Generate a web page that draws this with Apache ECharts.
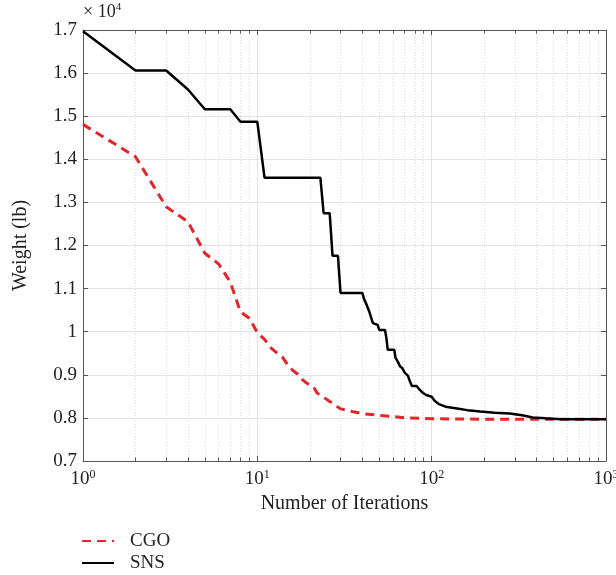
<!DOCTYPE html>
<html>
<head>
<meta charset="utf-8">
<script src="https://cdn.jsdelivr.net/npm/echarts@6/dist/echarts.min.js"></script>
<style>
  html, body { margin: 0; padding: 0; background: #fff; }
  #main { width: 616px; height: 575px; }
</style>
</head>
<body>
<div id="main"></div>
<script>
// weights in units of 1e4 lb, [iteration, weight]
var cgoData = [
  [1, 1.481], [2, 1.406], [3, 1.29], [4, 1.255], [5, 1.182], [6, 1.157], [7, 1.115],
  [8, 1.046], [9, 1.031], [10, 0.998], [11, 0.982], [12, 0.962], [13, 0.95], [14, 0.94],
  [15, 0.922], [16, 0.91], [17, 0.902], [18, 0.89], [19, 0.882], [20, 0.876], [21, 0.872],
  [22, 0.858], [23, 0.852], [24, 0.848], [25, 0.843], [26, 0.838], [27, 0.834], [28, 0.83],
  [29, 0.825], [30, 0.821], [35, 0.815], [40, 0.81], [50, 0.806], [60, 0.803], [70, 0.8],
  [100, 0.798], [200, 0.797], [1000, 0.797]
];
var snsData = [
  [1, 1.697], [2, 1.606], [3, 1.606], [4, 1.562], [5, 1.516], [7, 1.516], [8, 1.487],
  [10, 1.487], [11, 1.357], [23, 1.357], [24, 1.275], [26, 1.275], [27, 1.176], [29, 1.176],
  [30, 1.09], [40, 1.09], [41, 1.075], [42, 1.066], [43, 1.066], [44, 1.045], [45, 1.045],
  [46, 1.02], [47, 1.016], [49, 1.016], [50, 1.004], [54, 1.004], [55, 0.985], [56, 0.958],
  [61, 0.958], [62, 0.94], [64, 0.93], [66, 0.919], [68, 0.915], [70, 0.905], [73, 0.898],
  [75, 0.885], [77, 0.874], [82, 0.874], [85, 0.866], [89, 0.858], [93, 0.853], [100, 0.849],
  [104, 0.84], [110, 0.832], [120, 0.826], [140, 0.822], [160, 0.818], [190, 0.815],
  [230, 0.812], [280, 0.81], [330, 0.806], [380, 0.801], [450, 0.799], [550, 0.797], [1000, 0.797]
];
var minorX = [2, 3, 4, 5, 6, 7, 8, 9, 20, 30, 40, 50, 60, 70, 80, 90, 200, 300, 400, 500, 600, 700, 800, 900];
var seriesNames = ['CGO', 'SNS'];

var font = 'Liberation Serif';
var axisColor = '#555';
var gridColor = '#e4e4e4';
var yMin = 0.7, yMax = 1.7;

// minor grid lines + small minor ticks on the bottom and top edges
var minorLines = minorX.map(function (x) { return { xAxis: x }; });
var minorTicks = [];
minorX.forEach(function (x) {
  minorTicks.push([{ coord: [x, yMin] }, { coord: [x, yMin + 0.008] }]);
  minorTicks.push([{ coord: [x, yMax] }, { coord: [x, yMax - 0.008] }]);
});

var chart = echarts.init(document.getElementById('main'));
var option = {
  animation: false,
  backgroundColor: '#fff',
  textStyle: { fontFamily: font },
  grid: { left: 83, top: 30, right: 10, bottom: 114, outerBoundsMode: 'none' },
  legend: {
    data: seriesNames,
    orient: 'vertical',
    left: 81,
    top: 531,
    padding: 0,
    itemWidth: 32,
    itemHeight: 20,
    itemGap: 2,
    itemStyle: { opacity: 0 },
    textStyle: { fontFamily: font, fontSize: 19, lineHeight: 20, color: '#222', padding: [0, 0, 0, 11] }
  },
  graphic: [{
    type: 'text',
    left: 83,
    top: 2,
    style: {
      text: '× 10{s|4}',
      fontFamily: font,
      fontSize: 18,
      fill: '#222',
      rich: { s: { fontSize: 11, fontFamily: font, fill: '#222', padding: [0, 0, 9, 0] } }
    }
  }],
  xAxis: [{
    type: 'log',
    logBase: 10,
    min: 1,
    max: 1000,
    name: 'Number of Iterations',
    nameLocation: 'middle',
    nameGap: 33,
    nameTextStyle: { fontFamily: font, fontSize: 20, color: '#222' },
    axisLine: { show: true, lineStyle: { color: axisColor, width: 1 } },
    axisTick: { show: true, inside: true, length: 5, lineStyle: { color: axisColor } },
    splitLine: { show: true, lineStyle: { color: gridColor, width: 1 } },
    axisLabel: {
      margin: 8,
      formatter: function (v) {
        return '{b|10}{s|' + Math.round(Math.log10(v)) + '}';
      },
      rich: {
        b: { fontFamily: font, fontSize: 19, color: '#222' },
        s: { fontFamily: font, fontSize: 12, color: '#222', padding: [0, 0, 9, 0] }
      }
    }
  }, {
    type: 'log',
    logBase: 10,
    min: 1,
    max: 1000,
    position: 'top',
    axisLine: { show: true, lineStyle: { color: axisColor, width: 1 } },
    axisTick: { show: true, inside: true, length: 5, lineStyle: { color: axisColor } },
    axisLabel: { show: false },
    splitLine: { show: false }
  }],
  yAxis: [{
    type: 'value',
    min: yMin,
    max: yMax,
    interval: 0.1,
    name: 'Weight (lb)',
    nameLocation: 'middle',
    nameGap: 52,
    nameTextStyle: { fontFamily: font, fontSize: 20, color: '#222' },
    axisLine: { show: true, lineStyle: { color: axisColor, width: 1 } },
    axisTick: { show: true, inside: true, length: 5, lineStyle: { color: axisColor } },
    splitLine: { show: true, lineStyle: { color: gridColor, width: 1 } },
    axisLabel: {
      margin: 6,
      fontFamily: font,
      fontSize: 19,
      color: '#222',
      formatter: function (v) { return String(+v.toFixed(1)); }
    }
  }, {
    type: 'value',
    min: yMin,
    max: yMax,
    interval: 0.1,
    position: 'right',
    axisLine: { show: true, lineStyle: { color: axisColor, width: 1 } },
    axisTick: { show: true, inside: true, length: 5, lineStyle: { color: axisColor } },
    axisLabel: { show: false },
    splitLine: { show: false }
  }],
  series: [{
    name: 'CGO',
    type: 'line',
    symbol: 'none',
    z: 3,
    color: '#e3262b',
    lineStyle: { color: '#e3262b', width: 3, type: [9, 6] },
    data: cgoData,
    markLine: {
      silent: true,
      symbol: 'none',
      label: { show: false },
      lineStyle: { color: '#d9d9d9', width: 1, type: [1, 2] },
      data: minorLines,
      z: 1
    }
  }, {
    name: 'SNS',
    type: 'line',
    symbol: 'none',
    z: 4,
    color: '#000',
    lineStyle: { color: '#000', width: 2.5 },
    data: snsData,
    markLine: {
      silent: true,
      symbol: 'none',
      label: { show: false },
      lineStyle: { color: axisColor, width: 1, type: 'solid' },
      data: minorTicks,
      z: 1
    }
  }]
};
chart.setOption(option);
window.addEventListener('resize', function () {
  chart.resize();
});
</script>
</body>
</html>
